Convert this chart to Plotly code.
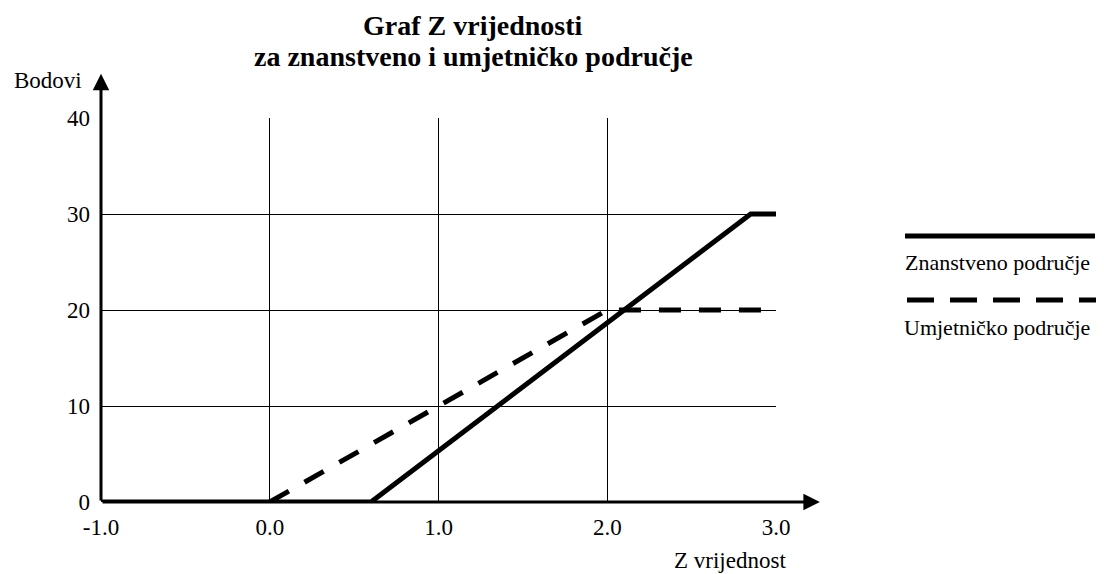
import plotly.graph_objects as go

# data
znan_x = [-1.0, 0.6, 2.85, 3.0]
znan_y = [0, 0, 30, 30]
umj_x = [0.0, 2.0, 3.0]
umj_y = [0, 20, 20]
x_ticks = [-1.0, 0.0, 1.0, 2.0, 3.0]
x_tick_labels = ["-1.0", "0.0", "1.0", "2.0", "3.0"]
y_ticks = [0, 10, 20, 30, 40]
y_tick_labels = ["0", "10", "20", "30", "40"]
series_names = ["Znanstveno područje", "Umjetničko područje"]
title_lines = ["Graf Z vrijednosti", "za znanstveno i umjetničko područje"]

FONT = "Liberation Serif"
FS = 23
OFF = 8  # page body margin
W, H = 1104 - OFF, 574 - OFF
L = 101 - OFF
T = 118 - OFF
R = W - (776 - OFF)
B = H - (502 - OFF)
pw, ph = W - L - R, H - T - B

def px_x(p):
    return (p - OFF - L) / pw

def px_y(p):
    return (T + ph - (p - OFF)) / ph

fig = go.Figure()
fig.add_trace(go.Scatter(x=umj_x, y=umj_y, mode="lines", name=series_names[1],
                         line=dict(color="black", width=5, dash="22px,18px"),
                         cliponaxis=False, showlegend=False))
fig.add_trace(go.Scatter(x=znan_x, y=znan_y, mode="lines", name=series_names[0],
                         line=dict(color="black", width=5),
                         cliponaxis=False, showlegend=False))

# axis arrows
fig.add_annotation(x=3.26, y=0, ax=-1.0, ay=0, xref="x", yref="y", axref="x", ayref="y",
                   showarrow=True, arrowhead=2, arrowsize=1.1, arrowwidth=3, arrowcolor="black", text="")
fig.add_annotation(x=-1.0, y=44.6, ax=-1.0, ay=0, xref="x", yref="y", axref="x", ayref="y",
                   showarrow=True, arrowhead=2, arrowsize=1.1, arrowwidth=3, arrowcolor="black", text="")

# title (two lines)
for txt, py in zip(title_lines, [25, 57]):
    fig.add_annotation(x=px_x(473), y=px_y(py), xref="paper", yref="paper", xanchor="center", yanchor="middle",
                       text="<b>" + txt + "</b>", showarrow=False, borderpad=0,
                       font=dict(family=FONT, size=28, color="black"))

# axis titles
fig.add_annotation(x=px_x(84), y=px_y(81), xref="paper", yref="paper", xanchor="right", yanchor="middle",
                   text="Bodovi", showarrow=False, font=dict(family=FONT, size=FS, color="black"))
fig.add_annotation(x=px_x(730), y=px_y(560), xref="paper", yref="paper", xanchor="center", yanchor="middle",
                   text="Z vrijednost", showarrow=False, font=dict(family=FONT, size=FS, color="black"))

# legend
fig.add_shape(type="line", xref="paper", yref="paper", x0=px_x(905), x1=px_x(1095), y0=px_y(236), y1=px_y(236),
              line=dict(color="black", width=5))
fig.add_shape(type="line", xref="paper", yref="paper", x0=px_x(907), x1=px_x(1104), y0=px_y(300), y1=px_y(300),
              line=dict(color="black", width=5, dash="27px,16px"))
fig.add_annotation(x=px_x(997), y=px_y(262), xref="paper", yref="paper", xanchor="center", yanchor="middle",
                   text=series_names[0], showarrow=False, borderpad=0,
                   font=dict(family=FONT, size=22, color="black"))
fig.add_annotation(x=px_x(997), y=px_y(327), xref="paper", yref="paper", xanchor="center", yanchor="middle",
                   text=series_names[1], showarrow=False, borderpad=0,
                   font=dict(family=FONT, size=22, color="black"))

fig.update_layout(
    width=W, height=H, autosize=False,
    margin=dict(l=L, r=R, t=T, b=B, pad=0),
    paper_bgcolor="white", plot_bgcolor="white",
    font=dict(family=FONT, size=FS, color="black"),
    showlegend=False,
)
fig.update_xaxes(range=[-1, 3], tickvals=x_ticks, ticktext=x_tick_labels,
                 showgrid=True, gridcolor="black", gridwidth=1, zeroline=False,
                 showline=False, ticks="", ticklabelstandoff=9,
                 tickfont=dict(family=FONT, size=FS, color="black"))
fig.update_yaxes(range=[0, 40], tickvals=y_ticks, ticktext=y_tick_labels,
                 showgrid=True, gridcolor="black", gridwidth=1, zeroline=False,
                 showline=False, ticks="", ticklabelstandoff=10,
                 tickfont=dict(family=FONT, size=FS, color="black"))

fig.write_html("out.html")
